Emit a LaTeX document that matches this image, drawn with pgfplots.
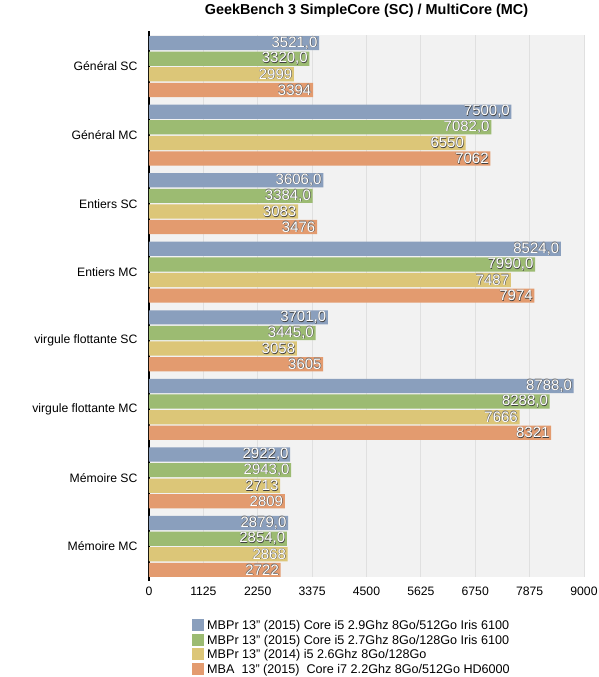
\documentclass[border=0pt]{standalone}
\usepackage{pgfplots}
\pgfplotsset{compat=1.18}
\usepackage{fontspec}
\setmainfont{Liberation Sans}
\definecolor{cblue}{HTML}{8A9FBD}
\definecolor{cgreen}{HTML}{9CBB72}
\definecolor{cyellow}{HTML}{DCC678}
\definecolor{corange}{HTML}{E39B6F}
\newcommand\shtxt[1]{\rlap{\kern0.5pt\raisebox{-0.5pt}{\textcolor{black!75}{#1}}}\rlap{\kern-0.3pt\raisebox{0.3pt}{\textcolor{black!55}{#1}}}\textcolor{white}{#1}}
\begin{document}
\begin{tikzpicture}
\begin{axis}[
  scale only axis,
  width=435pt, height=542pt,
  xmin=0, xmax=9000,
  ymin=-0.445, ymax=7.46,
  xbar=1.4pt,
  bar width=14.2pt,
  xtick={0,1125,2250,3375,4500,5625,6750,7875,9000},
  ytick={0,...,7},
  yticklabels={Mémoire MC,Mémoire SC,virgule flottante MC,virgule flottante SC,Entiers MC,Entiers SC,Général MC,Général SC},
  /pgf/number format/assume math mode=true,
  /pgf/number format/1000 sep={},
  major tick length=0pt,
  xmajorgrids,
  grid style={black!12, line width=0.8pt},
  axis background/.style={fill=black!5},
  separate axis lines,
  axis x line*=bottom, axis y line*=left,
  x axis line style={draw=none},
  y axis line style={black, line width=1.3pt, -, shorten <=-4pt, shorten >=-4pt},
  tick label style={font=\fontsize{12.2}{14}\selectfont},
  yticklabel style={xshift=-8pt},
  xticklabel style={yshift=-6pt},
  title={\bfseries GeekBench 3 SimpleCore (SC) / MultiCore (MC)},
  title style={font=\fontsize{14.4}{16}\selectfont, yshift=8pt},
  every node near coord/.append style={anchor=east, inner xsep=1.5pt, font=\fontsize{15}{16}\selectfont},
  reverse legend,
  legend style={draw=none, fill=none, at={(0.092,-0.074)}, anchor=north west,
    font=\fontsize{12.6}{14}\selectfont, legend cell align=left, row sep=1.5pt,
    nodes={inner ysep=1.2pt, inner xsep=3pt}},
  legend image code/.code={\fill[#1] (0pt,-5.5pt) rectangle (12pt,6.5pt);},
]
\addplot[fill=corange, draw=none, nodes near coords={\shtxt{\pgfmathprintnumber[fixed,precision=0,1000 sep={}]{\pgfplotspointmeta}}}]
 coordinates {(3394,7) (7062,6) (3476,5) (7974,4) (3605,3) (8321,2) (2809,1) (2722,0)};
\addplot[fill=cyellow, draw=none, nodes near coords={\shtxt{\pgfmathprintnumber[fixed,precision=0,1000 sep={}]{\pgfplotspointmeta}}}]
 coordinates {(2999,7) (6550,6) (3083,5) (7487,4) (3058,3) (7666,2) (2713,1) (2868,0)};
\addplot[fill=cgreen, draw=none, nodes near coords={\shtxt{\pgfmathprintnumber[fixed,fixed zerofill,precision=1,use comma,1000 sep={}]{\pgfplotspointmeta}}}]
 coordinates {(3320,7) (7082,6) (3384,5) (7990,4) (3445,3) (8288,2) (2943,1) (2854,0)};
\addplot[fill=cblue, draw=none, nodes near coords={\shtxt{\pgfmathprintnumber[fixed,fixed zerofill,precision=1,use comma,1000 sep={}]{\pgfplotspointmeta}}}]
 coordinates {(3521,7) (7500,6) (3606,5) (8524,4) (3701,3) (8788,2) (2922,1) (2879,0)};
\legend{MBA\ \ 13" (2015)\ \ Core i7 2.2Ghz 8Go/512Go HD6000,
MBPr 13" (2014) i5 2.6Ghz 8Go/128Go,
MBPr 13" (2015) Core i5 2.7Ghz 8Go/128Go Iris 6100,
MBPr 13" (2015) Core i5 2.9Ghz 8Go/512Go Iris 6100}
\end{axis}
\pgfresetboundingbox
\useasboundingbox (-149pt,-100pt) rectangle (449pt,577pt);
\end{tikzpicture}
\end{document}
